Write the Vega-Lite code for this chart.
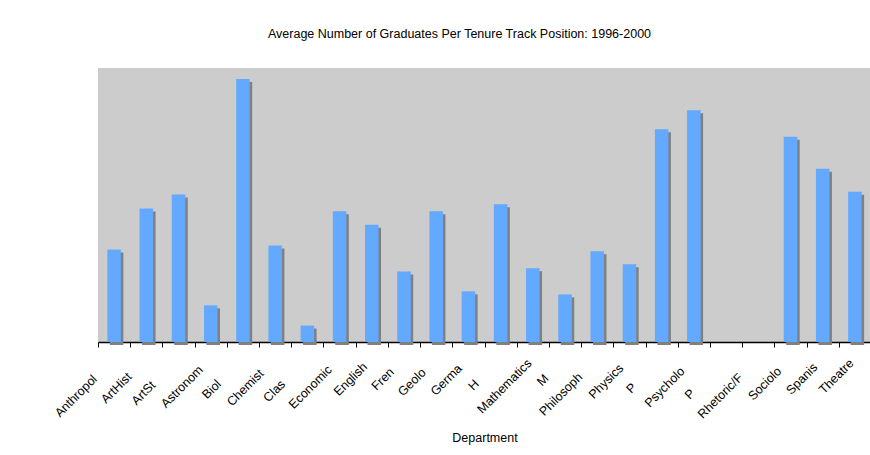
{
  "$schema": "https://vega.github.io/schema/vega-lite/v6.json",
  "width": 773,
  "height": 274,
  "autosize": "none",
  "padding": {"left": 98, "top": 68, "right": 0, "bottom": 113},
  "background": "white",
  "title": {
    "text": "Average Number of Graduates Per Tenure Track Position: 1996-2000",
    "font": "Liberation Sans",
    "fontSize": 12.5,
    "fontWeight": "normal",
    "color": "black",
    "anchor": "middle",
    "offset": 28,
    "dx": -25
  },
  "config": {
    "view": {"fill": "#CCCCCC", "stroke": null},
    "font": "Liberation Sans",
    "axisY": {
      "tickCount": 8,
      "format": ".1f",
      "titleFont": "Liberation Sans",
      "titleFontSize": 12.5,
      "titleFontWeight": "normal",
      "titleColor": "black",
      "titleX": -63,
      "titleY": 137,
      "titleAngle": 270,
      "titleBaseline": "middle",
      "titleAlign": "center",
      "labelFontSize": 12.5,
      "labelColor": "black",
      "labelPadding": 5,
      "tickSize": 5,
      "tickColor": "black",
      "domainColor": "black",
      "domainWidth": 1.5,
      "grid": true,
      "gridColor": "#333333",
      "gridWidth": 1.5
    }
  },
  "data": {
    "values": [
      {"Department": "Anthropology", "Label": "Anthropol", "Students": 2.70},
      {"Department": "Art History", "Label": "ArtHist", "Students": 3.90},
      {"Department": "Art Studio", "Label": "ArtSt", "Students": 4.31},
      {"Department": "Astronomy", "Label": "Astronom", "Students": 1.07},
      {"Department": "Biology", "Label": "Biol", "Students": 7.68},
      {"Department": "Chemistry", "Label": "Chemist", "Students": 2.82},
      {"Department": "Classics", "Label": "Clas", "Students": 0.48},
      {"Department": "Economics", "Label": "Economic", "Students": 3.82},
      {"Department": "English", "Label": "English", "Students": 3.42},
      {"Department": "French", "Label": "Fren", "Students": 2.06},
      {"Department": "Geology", "Label": "Geolo", "Students": 3.82},
      {"Department": "German", "Label": "Germa", "Students": 1.48},
      {"Department": "History", "Label": "H", "Students": 4.02},
      {"Department": "Mathematics", "Label": "Mathematics", "Students": 2.15},
      {"Department": "Music", "Label": "M", "Students": 1.39},
      {"Department": "Philosophy", "Label": "Philosoph", "Students": 2.65},
      {"Department": "Physics", "Label": "Physics", "Students": 2.27},
      {"Department": "Political Science", "Label": "P", "Students": 6.21},
      {"Department": "Psychology", "Label": "Psycholo", "Students": 6.77},
      {"Department": "Religion", "Label": "P", "Students": null},
      {"Department": "Rhetoric/Film", "Label": "Rhetoric/F", "Students": null},
      {"Department": "Sociology", "Label": "Sociolo", "Students": 5.99},
      {"Department": "Spanish", "Label": "Spanis", "Students": 5.06},
      {"Department": "Theatre", "Label": "Theatre", "Students": 4.39}
    ]
  },
  "encoding": {
    "x": {
      "field": "Department",
      "type": "nominal",
      "sort": null,
      "scale": {
        "domain": ["Anthropology", "Art History", "Art Studio", "Astronomy", "Biology", "Chemistry", "Classics", "Economics", "English", "French", "Geology", "German", "History", "Mathematics", "Music", "Philosophy", "Physics", "Political Science", "Psychology", "Religion", "Rhetoric/Film", "Sociology", "Spanish", "Theatre"],
        "paddingInner": 0,
        "paddingOuter": 0
      },
      "axis": {
        "title": "Department",
        "titleFont": "Liberation Sans",
        "titleFontSize": 12.5,
        "titleFontWeight": "normal",
        "titleColor": "black",
        "titleY": 89,
        "titleBaseline": "top",
        "labels": false,
        "tickBand": "extent",
        "tickSize": 5,
        "tickColor": "black",
        "domainColor": "black",
        "domainWidth": 1.5,
        "grid": false
      }
    }
  },
  "layer": [
    {
      "mark": {"type": "bar", "color": "#808080", "width": 13.5, "xOffset": 2.5, "yOffset": 3},
      "encoding": {
        "y": {
          "field": "Students",
          "type": "quantitative",
          "scale": {"domain": [0, 8], "nice": false},
          "axis": {"title": "Number of Students"}
        }
      }
    },
    {
      "mark": {"type": "bar", "color": "#63A9FF", "width": 13.5},
      "encoding": {
        "y": {
          "field": "Students",
          "type": "quantitative",
          "scale": {"domain": [0, 8], "nice": false},
          "axis": {"title": "Number of Students"}
        }
      }
    },
    {
      "mark": {
        "type": "text",
        "angle": 315,
        "align": "right",
        "baseline": "middle",
        "font": "Liberation Sans",
        "fontSize": 12.5,
        "color": "black",
        "yOffset": 16,
        "dx": {"expr": "-4.6 - {'Anthropology':22.5,'Art History':19,'Art Studio':31,'Astronomy':9.3,'Biology':29.3,'Chemistry':14.6,'Classics':29.6,'Economics':9.2,'English':5,'French':12.5,'Geology':13,'German':7.4,'History':29,'Mathematics':0,'Music':21.5,'Philosophy':19.4,'Physics':6.9,'Political Science':34,'Psychology':11.2,'Religion':42.3,'Rhetoric/Film':20.2,'Sociology':11.2,'Spanish':5.7,'Theatre':0}[datum.Department]"}
      },
      "encoding": {
        "y": {"datum": 0, "type": "quantitative", "axis": null},
        "text": {"field": "Label", "type": "nominal"}
      }
    }
  ]
}
